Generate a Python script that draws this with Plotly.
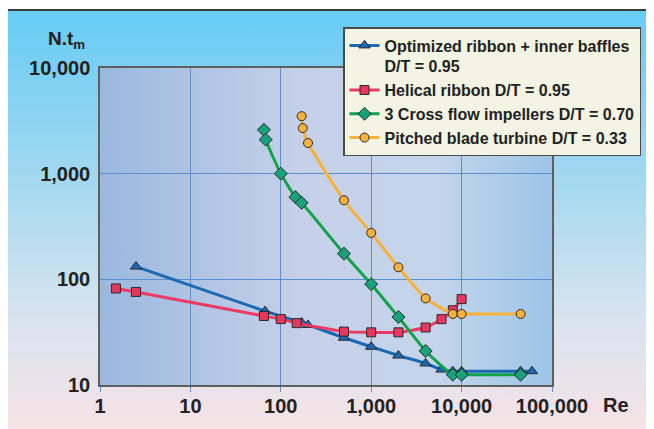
import base64
import plotly.graph_objects as go

# ---------------- data ----------------
re_blue = [2.5, 67, 170, 200, 500, 1000, 2000, 4000, 6000, 8000, 10000, 45000, 60000]
nt_blue = [132, 50, 39, 37, 28, 23, 19, 16, 14, 13.5, 13.5, 13.5, 13.5]

re_red = [1.5, 2.5, 65, 100, 150, 500, 1000, 2000, 4000, 6000, 8000, 10000]
nt_red = [82, 76, 45, 42, 38.5, 32, 31.5, 31.5, 35, 42, 51, 65]

re_green = [65, 68, 100, 145, 170, 500, 1000, 2000, 4000, 8000, 10000, 45000]
nt_green = [2600, 2100, 1000, 600, 530, 175, 90, 44, 21, 12.5, 12.5, 12.5]

re_orange = [170, 175, 200, 500, 1000, 2000, 4000, 8000, 10000, 45000]
nt_orange = [3500, 2700, 1950, 560, 275, 130, 66, 47, 47, 47]

names = ["Optimized ribbon + inner baffles<br>D/T = 0.95",
         "Helical ribbon D/T = 0.95",
         "3 Cross flow impellers D/T = 0.70",
         "Pitched blade turbine D/T = 0.33"]

x_tickvals = [1, 10, 100, 1000, 10000, 100000]
x_ticktext = ["1", "10", "100", "1,000", "10,000", "100,000"]
y_tickvals = [10, 100, 1000, 10000]
y_ticktext = ["10", "100", "1,000", "10,000"]

# ---------------- layout geometry (screen pixels) ----------------
OFF = 8  # default page body margin
W, H = 654, 429
L, R, T, B = 100 - OFF, 552 - OFF, 68 - OFF, 385 - OFF
pw, ph = R - L, B - T


def px_x(px):
    return (px - OFF - L) / pw


def px_y(py):
    return (B - (py - OFF)) / ph


def svg_uri(svg):
    return "data:image/svg+xml;base64," + base64.b64encode(svg.encode()).decode()


outer_svg = """<svg xmlns='http://www.w3.org/2000/svg' width='100' height='100' preserveAspectRatio='none'>
<defs><linearGradient id='g' x1='0' y1='0' x2='0' y2='1'>
<stop offset='0' stop-color='#66ccf5'/>
<stop offset='0.40' stop-color='#a6d9f0'/>
<stop offset='0.70' stop-color='#d8e4ef'/>
<stop offset='1' stop-color='#fbe3e5'/>
</linearGradient></defs>
<rect width='100' height='100' fill='url(#g)'/></svg>"""

plot_svg = """<svg xmlns='http://www.w3.org/2000/svg' width='100' height='100' preserveAspectRatio='none'>
<defs><linearGradient id='g' x1='0' y1='0' x2='1' y2='0'>
<stop offset='0' stop-color='#9bb8df'/>
<stop offset='0.45' stop-color='#c6d1e9'/>
<stop offset='0.75' stop-color='#c4d5ea'/>
<stop offset='1' stop-color='#9cc5e8'/>
</linearGradient></defs>
<rect width='100' height='100' fill='url(#g)'/></svg>"""

fig = go.Figure()

series = [
    (re_blue, nt_blue, "#1b68b3", "#1b68b3", "triangle-up", 10),
    (re_red, nt_red, "#ec3a64", "#e8375f", "square", 9),
    (re_green, nt_green, "#12a24a", "#16a27a", "diamond", 10),
    (re_orange, nt_orange, "#f8b23a", "#fbb13c", "circle", 9),
]
for (xs, ys, lc, mc, sym, sz), nm in zip(series, names):
    fig.add_trace(go.Scatter(
        x=xs, y=ys, name=nm, mode="lines+markers",
        line=dict(color=lc, width=3, shape="spline", smoothing=0.5),
        marker=dict(symbol=sym, size=sz, color=mc, line=dict(color="#2a2a2a", width=1)),
    ))

grid_c = "#5a8fd3"
font_fam = "Liberation Sans, Arial"
fig.update_xaxes(
    type="log", range=[0, 5], tickvals=x_tickvals, ticktext=x_ticktext,
    showgrid=True, gridcolor=grid_c, gridwidth=1,
    ticks="outside", ticklen=5, tickcolor=grid_c, tickwidth=1,
    ticklabelstandoff=-3,
    showline=True, linecolor="#5f5f5f", linewidth=1.5, mirror=True,
    tickfont=dict(family=font_fam, size=20, color="#222", weight="bold"),
    zeroline=False,
)
fig.update_yaxes(
    type="log", range=[1, 4], tickvals=y_tickvals, ticktext=y_ticktext,
    showgrid=True, gridcolor=grid_c, gridwidth=1,
    ticks="", ticklabelstandoff=4,
    showline=True, linecolor="#5f5f5f", linewidth=1.5, mirror=True,
    tickfont=dict(family=font_fam, size=20, color="#222", weight="bold"),
    zeroline=False,
)

fig.update_layout(
    width=W, height=H,
    margin=dict(l=L, r=W - R, t=T, b=H - B, pad=0),
    paper_bgcolor="white", plot_bgcolor="rgba(0,0,0,0)",
    images=[
        dict(source=svg_uri(outer_svg), xref="paper", yref="paper",
             x=px_x(7), y=px_y(10), sizex=(W + 20 - 7) / pw, sizey=(H + 20 - 10) / ph,
             xanchor="left", yanchor="top", sizing="stretch", layer="below"),
        dict(source=svg_uri(plot_svg), xref="paper", yref="paper",
             x=0, y=1, sizex=1, sizey=1,
             xanchor="left", yanchor="top", sizing="stretch", layer="below"),
    ],
    shapes=[
        dict(type="rect", xref="paper", yref="paper",
             x0=px_x(7), x1=px_x(W + 20), y0=px_y(H + 20), y1=px_y(10),
             line=dict(color="#3d3d3d", width=2), fillcolor="rgba(0,0,0,0)", layer="above"),
    ],
    legend=dict(
        x=px_x(343), y=px_y(27), xanchor="left", yanchor="top",
        bgcolor="#f4f4e4", bordercolor="#4a4a4a", borderwidth=1.5,
        font=dict(family=font_fam, size=16, color="#222", weight="bold"),
        valign="top", itemwidth=30, tracegroupgap=2,
    ),
    annotations=[
        dict(text="N.t<sub>m</sub>", xref="paper", yref="paper",
             x=px_x(46), y=px_y(40), xanchor="left", yanchor="middle", showarrow=False,
             font=dict(family=font_fam, size=19, color="#222", weight="bold")),
        dict(text="Re", xref="paper", yref="paper",
             x=px_x(601), y=px_y(405), xanchor="left", yanchor="middle", showarrow=False,
             font=dict(family=font_fam, size=20, color="#222", weight="bold")),
    ],
)

fig.write_html("out.html")
